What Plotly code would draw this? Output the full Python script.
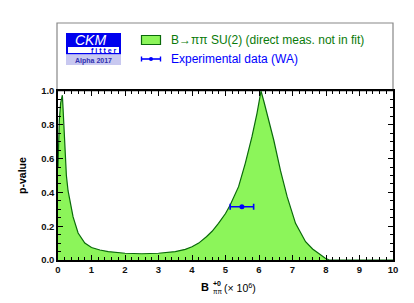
import plotly.graph_objects as go

# p-value scan of B(B+ -> pi+ pi0) x 10^6
bf_values = [0.0, 0.04, 0.08, 0.13, 0.15, 0.2, 0.25, 0.3, 0.35, 0.45, 0.6, 0.8, 1.0, 1.25, 1.5,
             2.0, 2.5, 3.0, 3.5, 3.8, 4.0, 4.2, 4.43, 4.6, 4.79, 5.0, 5.14, 5.39, 5.59, 5.79,
             5.94, 6.06, 6.15, 6.24, 6.44, 6.64, 6.84, 7.09, 7.39, 7.6, 7.78, 7.98, 8.1, 10.0]
p_values = [0.55, 0.83, 0.93, 0.975, 0.9, 0.68, 0.5, 0.41, 0.355, 0.255, 0.16, 0.1, 0.074, 0.059, 0.05,
            0.04, 0.037, 0.04, 0.05, 0.063, 0.078, 0.1, 0.138, 0.17, 0.217, 0.275, 0.325, 0.434, 0.572, 0.73,
            0.868, 1.0, 0.935, 0.868, 0.71, 0.53, 0.375, 0.217, 0.108, 0.065, 0.04, 0.01, 0.0, 0.0]

# experimental world average
exp_value = [5.49]
exp_error = [0.35]
exp_p = [0.315]

legend_labels = ["B→ππ SU(2) (direct meas. not in fit)", "Experimental data (WA)"]

FONT = "Liberation Sans, Arial, Helvetica, sans-serif"
GREEN_FILL = "#8cf55a"
GREEN_LINE = "#0a6a0a"
BLUE = "#0000ff"

fig = go.Figure()
fig.add_trace(go.Scatter(
    x=bf_values, y=p_values, mode="lines", fill="tozeroy",
    fillcolor=GREEN_FILL, line=dict(color=GREEN_LINE, width=1.2),
    name=legend_labels[0], showlegend=False, hoverinfo="skip"))
fig.add_trace(go.Scatter(
    x=exp_value, y=exp_p, mode="markers",
    marker=dict(color=BLUE, size=5),
    error_x=dict(type="data", array=exp_error, color=BLUE, thickness=1.6, width=3),
    name=legend_labels[1], showlegend=False))

axis_common = dict(
    showline=True, linecolor="black", linewidth=1.5, mirror="allticks",
    ticks="inside", ticklen=5, tickwidth=1.3, tickcolor="black",
    showgrid=False, zeroline=False,
    tickfont=dict(family=FONT, size=9.5, color="#111111", weight="bold"),
)

fig.update_xaxes(range=[0, 10], dtick=1, tick0=0,
                 minor=dict(dtick=0.2, ticks="inside", ticklen=3, tickwidth=1, tickcolor="black"),
                 **axis_common)
fig.update_yaxes(range=[0, 1.0], dtick=0.2, tick0=0, tickformat=".1f",
                 minor=dict(dtick=0.05, ticks="inside", ticklen=3, tickwidth=1, tickcolor="black"),
                 title=dict(text="<b>p-value</b>", font=dict(family=FONT, size=10.5, color="black"),
                            standoff=12),
                 **axis_common)

# page has an 8px body margin: screen = figure + 8
OFF = 8
L, R, T, B = 58 - OFF, 393 - OFF, 91 - OFF, 260 - OFF
FIG_W, FIG_H = 414 - OFF, 303 - OFF
W, H = float(R - L), float(B - T)
def px(xs):
    return (xs - OFF - L) / W
def py(ys):
    return (B - (ys - OFF)) / H

shapes = []
annotations = []
# legend frame
shapes.append(dict(type="rect", xref="paper", yref="paper", x0=px(57), x1=px(393), y0=py(91), y1=py(23),
                   line=dict(color="#888888", width=1.2), fillcolor="white", layer="below"))
# CKMfitter logo
shapes.append(dict(type="rect", xref="paper", yref="paper", x0=px(66), x1=px(121), y0=py(54.5), y1=py(33),
                   line=dict(width=0), fillcolor="#0000ee"))
shapes.append(dict(type="rect", xref="paper", yref="paper", x0=px(68), x1=px(119), y0=py(53), y1=py(47),
                   line=dict(width=0), fillcolor="white"))
shapes.append(dict(type="rect", xref="paper", yref="paper", x0=px(66), x1=px(121), y0=py(65), y1=py(54.5),
                   line=dict(width=0), fillcolor="#c8c8f0"))
annotations.append(dict(xref="paper", yref="paper", x=px(90), y=py(39.5), text="<i>CKM</i>",
                        showarrow=False, font=dict(family=FONT, size=14, color="white"),
                        xanchor="center", yanchor="middle"))
annotations.append(dict(xref="paper", yref="paper", x=px(119), y=py(50), text="<b>f i t t e r</b>",
                        showarrow=False, font=dict(family=FONT, size=7, color="#0000ee"),
                        xanchor="right", yanchor="middle"))
annotations.append(dict(xref="paper", yref="paper", x=px(93.5), y=py(60.5), text="<b>Alpha 2017</b>",
                        showarrow=False, font=dict(family=FONT, size=7, color="#3030b0"),
                        xanchor="center", yanchor="middle"))
# legend entries
shapes.append(dict(type="rect", xref="paper", yref="paper", x0=px(141.5), x1=px(160.5), y0=py(44.5), y1=py(35.5),
                   line=dict(color=GREEN_LINE, width=1.2), fillcolor=GREEN_FILL))
shapes.append(dict(type="line", xref="paper", yref="paper", x0=px(141.5), x1=px(160.5), y0=py(59), y1=py(59),
                   line=dict(color=BLUE, width=1.6)))
for xe in (141.5, 160.5):
    shapes.append(dict(type="line", xref="paper", yref="paper", x0=px(xe), x1=px(xe), y0=py(61.5), y1=py(56.5),
                       line=dict(color=BLUE, width=1.4)))
shapes.append(dict(type="circle", xref="paper", yref="paper", x0=px(149), x1=px(153), y0=py(61), y1=py(57),
                   line=dict(color=BLUE, width=0), fillcolor=BLUE))
annotations.append(dict(xref="paper", yref="paper", x=px(169), y=py(40), text=legend_labels[0],
                        showarrow=False, font=dict(family=FONT, size=12, color="#0a7a0a"),
                        xanchor="left", yanchor="middle"))
annotations.append(dict(xref="paper", yref="paper", x=px(169), y=py(59), text=legend_labels[1],
                        showarrow=False, font=dict(family=FONT, size=12, color=BLUE),
                        xanchor="left", yanchor="middle"))
# x-axis title: B with stacked super/subscript, then (x 10^6)
annotations.append(dict(xref="paper", yref="paper", x=px(211), y=py(287), text="<b>B</b>",
                        showarrow=False, font=dict(family=FONT, size=11, color="black"),
                        xanchor="right", yanchor="middle"))
annotations.append(dict(xref="paper", yref="paper", x=px(211), y=py(283), text="<b>+0</b>",
                        showarrow=False, font=dict(family=FONT, size=7, color="black"),
                        xanchor="left", yanchor="middle"))
annotations.append(dict(xref="paper", yref="paper", x=px(211), y=py(291), text="ππ",
                        showarrow=False, font=dict(family=FONT, size=6.5, color="black"),
                        xanchor="left", yanchor="middle"))
annotations.append(dict(xref="paper", yref="paper", x=px(222), y=py(287), text="(× 10<sup>6</sup>)",
                        showarrow=False, font=dict(family=FONT, size=10.5, color="black"),
                        xanchor="left", yanchor="middle"))

fig.update_layout(
    width=FIG_W, height=FIG_H,
    margin=dict(l=L, r=FIG_W - R, t=T, b=FIG_H - B, pad=0),
    paper_bgcolor="white", plot_bgcolor="white",
    shapes=shapes, annotations=annotations,
    showlegend=False,
)

fig.write_html("out.html")
